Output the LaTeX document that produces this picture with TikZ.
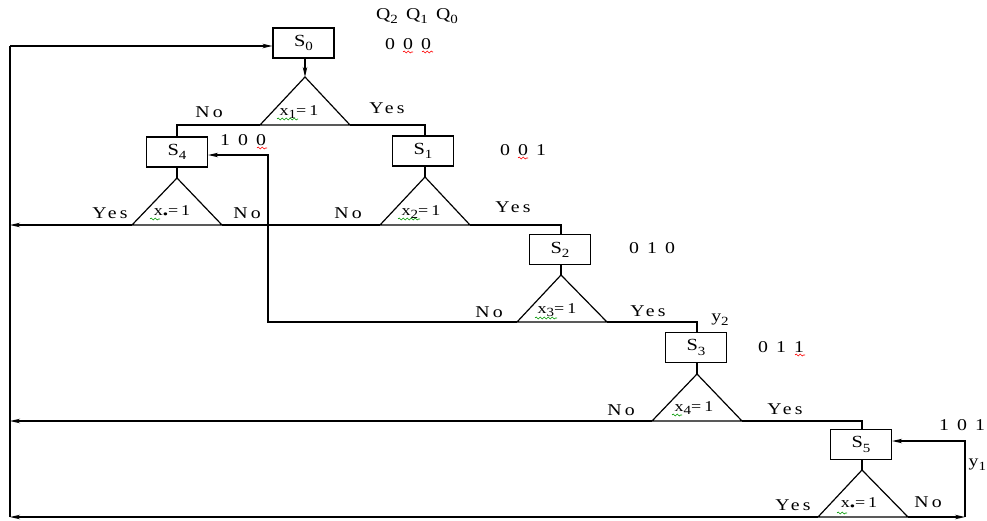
\documentclass[tikz,border=0pt]{standalone}
\usepackage{fontspec}
\usepackage{graphicx}
\setmainfont{Liberation Serif}
\newfontfamily\spfont[LetterSpace=16]{Liberation Serif}
\usetikzlibrary{arrows.meta,decorations.pathmorphing}
\newcommand\mytri[6]{%
  \coordinate (#1t) at (#2,#3);
  \coordinate (#1l) at (#4,#6);
  \coordinate (#1r) at (#5,#6);
  \draw (#1t) -- (#1l) -- (#1r) -- cycle;}
\newcommand\subx[1]{\raisebox{-0.25em}{\fontsize{12.5}{12.5}\selectfont #1}}
\newcommand\W[1]{\scalebox{1.2}[1]{#1}}
\begin{document}
\begin{tikzpicture}[x=1pt,y=-1pt,line width=1.2pt,
  box/.style={draw,minimum width=61pt,minimum height=30pt,inner sep=0pt,font=\fontsize{17}{17}\spfont},
  lbl/.style={inner sep=0pt,font=\fontsize{16.5}{16.5}\spfont},
  cnd/.style={inner sep=0pt,font=\fontsize{15}{15}\spfont},
  arr/.style={-{Stealth[length=10pt,width=4.5pt,inset=3pt]}},
  sq/.style={line width=0.6pt,decorate,decoration={snake,amplitude=1pt,segment length=4pt}},
  red sq/.style={sq,draw=red},
  green sq/.style={sq,draw=green!60!black}]
\useasboundingbox (0,0) rectangle (987,520);
% state boxes
\node[box] (S0) at (303.5,43) {\W{S\subx{0}}};
\node[box] (S4) at (177,152) {\W{S\subx{4}}};
\node[box] (S1) at (423,151) {\W{S\subx{1}}};
\node[box] (S2) at (560,249.5) {\W{S\subx{2}}};
\node[box] (S3) at (696,347.5) {\W{S\subx{3}}};
\node[box] (S5) at (861,444.5) {\W{S\subx{5}}};
% decision triangles
\mytri{T0}{305}{77}{260}{350}{125}
\mytri{T4}{177}{178}{132}{222}{225}
\mytri{T1}{425}{177}{380}{470}{225}
\mytri{T2}{561}{275}{517}{607}{322}
\mytri{T3}{697}{374}{652}{742}{421}
\mytri{T5}{862}{470}{818}{908}{517}
\node[cnd] (c0) at (299,112) {\W{x\subx{1}=1}};
\node[cnd] (c4) at (172,212) {\W{x\subx{•}=1}};
\node[cnd] (c1) at (421,212) {\W{x\subx{2}=1}};
\node[cnd] (c2) at (557,310) {\W{x\subx{3}=1}};
\node[cnd] (c3) at (694,408) {\W{x\subx{4}=1}};
\node[cnd] (c5) at (859,504) {\W{x\subx{•}=1}};
% free points
\coordinate (L0) at (10,46);
\coordinate (L1) at (10,225);
\coordinate (L2) at (10,421);
\coordinate (L3) at (10,517);
\coordinate (C1) at (268,155);
\coordinate (R1) at (965,517);
\coordinate (R2) at (965,441);
% connectors
\draw (L3) -- (L0);
\draw[arr] (L0) -- (L0 -| S0.west);
\draw[arr] (S0.south -| T0t) -- (T0t);
\draw (T0l) -| (S4.north);
\draw (T0r) -| (T1t |- S1.north);
\draw (S4.south) -- (T4t);
\draw (S1.south -| T1t) -- (T1t);
\draw[arr] (T4l) -- (L1);
\draw (T4r) -- (T1l);
\draw (T1r) -| (T2t |- S2.north);
\draw (S2.south -| T2t) -- (T2t);
\draw[arr] (T2l) -| (C1) -- (C1 -| S4.east);
\draw (T2r) -| (T3t |- S3.north);
\draw (S3.south -| T3t) -- (T3t);
\draw[arr] (T3l) -- (L2);
\draw (T3r) -| (T5t |- S5.north);
\draw (S5.south -| T5t) -- (T5t);
\draw[arr] (T5l) -- (L3);
\draw[arr] (T5r) -- (R1);
\draw[arr] (R1) -- (R2) -- (R2 -| S5.east);
% branch labels
\node[lbl] (n0) at (209,112) {\W{No}};
\node[lbl] (y0) at (387,108) {\W{Yes}};
\node[lbl] (y4) at (110,213) {\W{Yes}};
\node[lbl] (n4) at (247,213) {\W{No}};
\node[lbl] (n1) at (348,213) {\W{No}};
\node[lbl] (y1) at (513,207) {\W{Yes}};
\node[lbl] (n2) at (489,312) {\W{No}};
\node[lbl] (y2) at (648,311) {\W{Yes}};
\node[lbl] (n3) at (621,410) {\W{No}};
\node[lbl] (y3) at (785,409) {\W{Yes}};
\node[lbl] (y5) at (793,505) {\W{Yes}};
\node[lbl] (n5) at (928,502) {\W{No}};
\node[lbl] (o2) at (720,320) {\W{y\subx{2}}};
\node[lbl,anchor=west] (o1) at (968,465) {\W{y\subx{1}}};
% state codes
\node[lbl] (q) at (417,16) {\W{Q\subx{2} Q\subx{1} Q\subx{0}}};
\node[lbl] (k0) at (408,44) {\W{0 0 0}};
\node[lbl] (k4) at (243,140) {\W{1 0 0}};
\node[lbl] (k1) at (523,150) {\W{0 0 1}};
\node[lbl] (k2) at (652,248) {\W{0 1 0}};
\node[lbl] (k3) at (781,347) {\W{0 1 1}};
\node[lbl] (k5) at (962,425) {\W{1 0 1}};
% spell-check squiggles
\draw[red sq] (403,52) -- (413,52);
\draw[red sq] (422,52) -- (433,52);
\draw[red sq] (257,148) -- (267,148);
\draw[red sq] (518,158) -- (528,158);
\draw[red sq] (795,355) -- (805,355);
\draw[green sq] (277,119) -- (298,119);
\draw[green sq] (150,219) -- (160,219);
\draw[green sq] (398,219) -- (420,219);
\draw[green sq] (535,318) -- (557,318);
\draw[green sq] (672,415) -- (682,415);
\draw[green sq] (837,513) -- (847,513);
\end{tikzpicture}
\end{document}
